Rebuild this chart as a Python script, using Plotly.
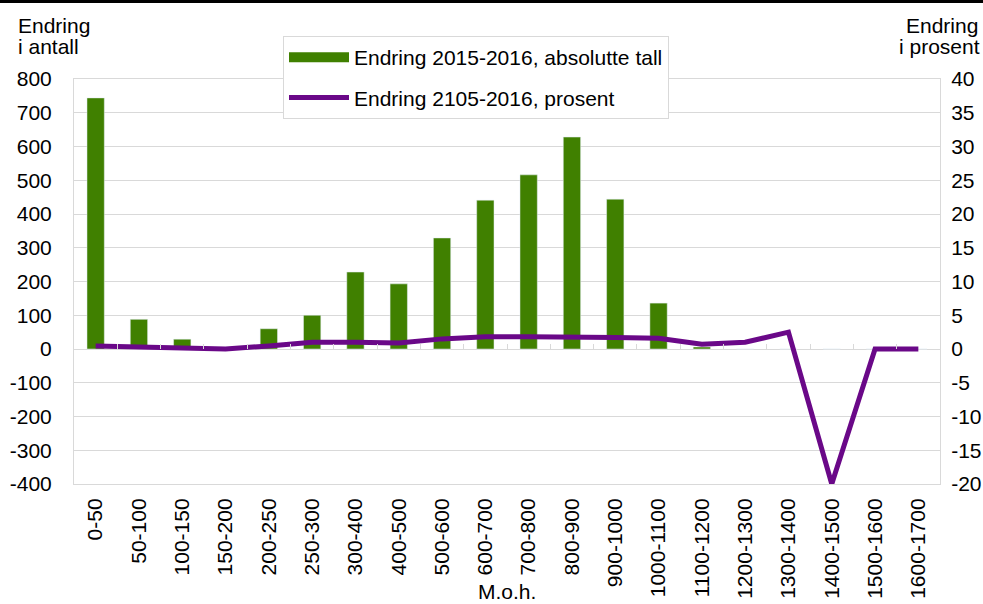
import plotly.graph_objects as go

categories = ["0-50", "50-100", "100-150", "150-200", "200-250", "250-300", "300-400",
              "400-500", "500-600", "600-700", "700-800", "800-900", "900-1000",
              "1000-1100", "1100-1200", "1200-1300", "1300-1400", "1400-1500",
              "1500-1600", "1600-1700"]
abs_change = [744, 88, 29, 2, 60, 100, 228, 193, 329, 441, 516, 628, 444, 136,
              6, 0, 0, 0, 0, 0]
pct_change = [0.45, 0.3, 0.15, 0.0, 0.45, 1.0, 1.0, 0.9, 1.5, 1.8, 1.8, 1.8, 1.7,
              1.6, 0.7, 1.0, 2.5, -20.0, 0.0, 0.0]

left_ticks = [-400, -300, -200, -100, 0, 100, 200, 300, 400, 500, 600, 700, 800]
left_ticktext = ["-400", "-300", "-200", "-100", "0", "100", "200", "300", "400",
                 "500", "600", "700", "800"]
right_ticks = [-20, -15, -10, -5, 0, 5, 10, 15, 20, 25, 30, 35, 40]
right_ticktext = ["-20", "-15", "-10", "-5", "0", "5", "10", "15", "20", "25", "30",
                  "35", "40"]

name_bar = "Endring 2015-2016, absolutte tall"
name_line = "Endring 2105-2016, prosent"
left_title = ["Endring", "i antall"]
right_title = ["Endring", "i prosent"]
x_title = "M.o.h."

GREEN = "#408000"
PURPLE = "#6a0888"
GRID = "#d9d9d9"
FONT = "Liberation Sans, Arial, sans-serif"
FS = 21

fig = go.Figure()
fig.add_trace(go.Bar(x=categories, y=abs_change, marker_color=GREEN,
                     showlegend=False, name=name_bar))
# legend proxy for the bar series (wide rectangle symbol)
fig.add_trace(go.Scatter(x=[None], y=[None], mode="lines", name=name_bar,
                         line=dict(color=GREEN, width=11), legendgroup="a"))
fig.add_trace(go.Scatter(x=categories, y=pct_change, mode="lines", name=name_line,
                         line=dict(color=PURPLE, width=5), xaxis="x2", yaxis="y2",
                         legendgroup="b"))

n = len(categories)
fig.update_layout(
    width=983, height=604,
    margin=dict(l=74, r=43, t=79, b=120, autoexpand=False),
    paper_bgcolor="white", plot_bgcolor="white",
    font=dict(family=FONT, size=FS, color="black"),
    bargap=0.6,
    xaxis=dict(type="category", categoryarray=categories, range=[-0.5, n - 0.5],
               showline=True, linecolor=GRID, linewidth=1, mirror=True,
               showgrid=False, ticks="", tickangle=-90, ticklabelstandoff=5,
               automargin=False),
    xaxis2=dict(type="category", categoryarray=categories, overlaying="x",
                range=[-0.5, n - 0.5],
                anchor="free", position=1/3, showline=False, showgrid=False,
                showticklabels=False, ticks="inside", ticklen=5, tickcolor=GRID,
                tickwidth=1, tickson="boundaries", automargin=False),
    yaxis=dict(range=[-400, 800], tickvals=left_ticks, ticktext=left_ticktext,
               showgrid=True, gridcolor=GRID, gridwidth=1, zeroline=False,
               showline=True, linecolor=GRID, ticks="", ticklabelstandoff=17,
               automargin=False),
    yaxis2=dict(range=[-20, 40], tickvals=right_ticks, ticktext=right_ticktext,
                overlaying="y", side="right", anchor="x2", showgrid=False,
                zeroline=False, showline=True, linecolor=GRID, ticks="",
                ticklabelstandoff=6, automargin=False),
    legend=dict(x=(283 - 74) / 866, y=(484 - 36) / 405, xanchor="left", yanchor="top",
                bgcolor="white", bordercolor=GRID, borderwidth=1,
                itemwidth=60, font=dict(size=FS),
                traceorder="grouped", tracegroupgap=10),
    showlegend=True,
)

def px_x(x):
    return (x - 74) / 866

def px_y(y):
    return (484 - y) / 405

fig.add_annotation(text=left_title[0], x=px_x(16), y=px_y(12), xref="paper", yref="paper",
                   xanchor="left", yanchor="top", showarrow=False)
fig.add_annotation(text=left_title[1], x=px_x(16), y=px_y(33), xref="paper", yref="paper",
                   xanchor="left", yanchor="top", showarrow=False)
fig.add_annotation(text=right_title[0], x=px_x(980), y=px_y(12), xref="paper", yref="paper",
                   xanchor="right", yanchor="top", showarrow=False)
fig.add_annotation(text=right_title[1], x=px_x(982), y=px_y(33), xref="paper", yref="paper",
                   xanchor="right", yanchor="top", showarrow=False)
fig.add_annotation(text=x_title, x=0.5, y=px_y(591), xref="paper", yref="paper",
                   xanchor="center", yanchor="middle", showarrow=False)
# top black rule
fig.add_shape(type="line", xref="paper", yref="paper", x0=px_x(0), x1=px_x(983),
              y0=px_y(1.5), y1=px_y(1.5), line=dict(color="black", width=3))

fig.write_html(
    "out.html",
    config={"displayModeBar": False},
    post_script=(
        "document.documentElement.style.margin='0';"
        "document.documentElement.style.overflow='hidden';"
        "document.body.style.margin='0';"
        "document.body.style.overflow='hidden';"
    ),
)
